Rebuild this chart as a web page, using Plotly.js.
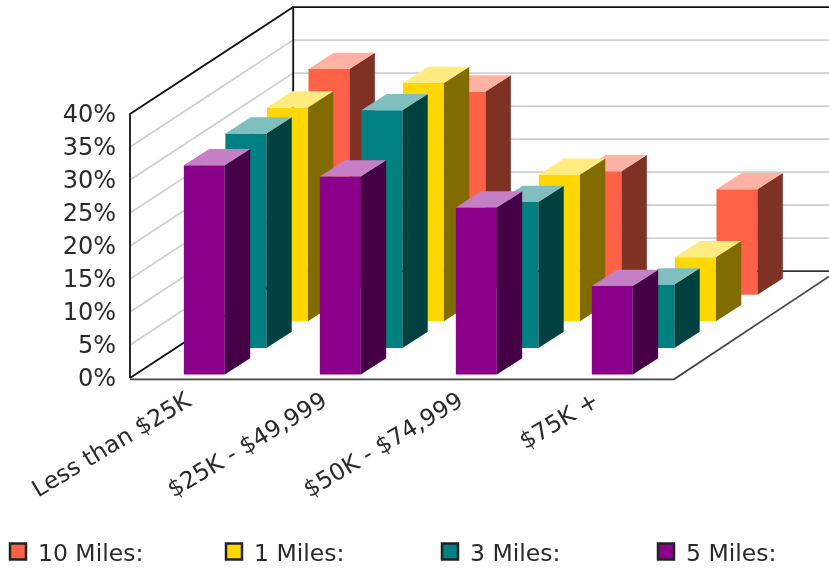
<!DOCTYPE html>
<html><head><meta charset="utf-8">
<script src="https://cdn.plot.ly/plotly-3.0.1.min.js"></script>
<style>html,body{margin:0;padding:0;background:#fff}#c{width:829px;height:569px;filter:blur(0.5px)}</style>
</head><body><div id="c"></div>
<script>
const categories = ["Less than $25K", "$25K - $49,999", "$50K - $74,999", "$75K +"];
const seriesNames = ["10 Miles:", "1 Miles:", "3 Miles:", "5 Miles:"];
const tenMiles = [34.2, 30.8, 18.7, 16.0];
const oneMile = [32.4, 36.1, 22.2, 9.7];
const threeMiles = [32.5, 36.0, 22.1, 9.6];
const fiveMiles = [31.7, 30.0, 25.3, 13.4];
const yTicks = [0, 5, 10, 15, 20, 25, 30, 35, 40];
const frontColors = ["#FF6347", "#FFD700", "#008080", "#8B008B"];
const sideColors = ["#7F3123", "#806C00", "#004040", "#460046"];
const topColors = ["#FFB1A3", "#FFEB7F", "#7FBFBF", "#C57FC5"];
const seriesValues = [tenMiles, oneMile, threeMiles, fiveMiles];

// oblique projection: one series step of depth shifts the point right and up
const depthX = 0.3, depthY = 4.05;
const P = (cat, val, depth) => [cat + depth * depthX, val + depth * depthY];
const barDepthX = 0.3055, barDepthY = 4.03, barShift = 0.007;
const B = (cat, val, depth) => [cat + barShift + depth * barDepthX, val + depth * barDepthY];
const nDepth = seriesValues.length, nCat = categories.length;
const barW = 0.3015, barD = 0.61, barGap = 0.13;

const traces = [];
function poly(pts, color, name) {
  const x = [], y = [];
  pts.forEach(p => { if (p) { x.push(p[0]); y.push(p[1]); } else { x.push(null); y.push(null); } });
  return {x, y, mode: 'lines', fill: 'toself', fillcolor: color, line: {width: 0, color: color},
          hoverinfo: 'skip', showlegend: false, name};
}
function line(pts, color, w) {
  return {x: pts.map(p => p[0]), y: pts.map(p => p[1]), mode: 'lines',
          line: {color, width: w}, hoverinfo: 'skip', showlegend: false};
}
// legend entries, one legend per entry so that each column sits where it should
const legendIds = ['legend', 'legend2', 'legend3', 'legend4'];
seriesNames.forEach((n, i) => traces.push({x: [null], y: [null], mode: 'markers', name: n, legend: legendIds[i],
  marker: {symbol: 'square', size: 16, color: frontColors[i], line: {color: '#222', width: 2.5}}}));

// walls: gridlines
yTicks.slice(1, -1).forEach(v => {
  traces.push(line([P(0, v, 0), P(0, v, nDepth), P(nCat + 1, v, nDepth)], '#cfcfcf', 1.7));
});
// frame
const topV = yTicks[yTicks.length - 1];
traces.push(line([P(0, 0, nDepth), P(nCat + 1, 0, nDepth)], '#333', 1.8));
traces.push(line([P(0, 0, 0), P(0, 0, nDepth), P(0, topV, nDepth), P(nCat + 1, topV, nDepth)], '#111', 1.8));
traces.push(line([P(0, topV, nDepth), P(0, topV, 0), P(0, 0, 0)], '#111', 1.8));
traces.push(line([P(0, -0.2, 0), P(nCat, -0.2, 0), P(nCat, 0, nDepth)], '#444', 1.8));

// bars, back series first
seriesValues.forEach((vals, s) => {
  const d0 = (nDepth - 1 - s) + barGap, d1 = d0 + barD;
  const f = [], r = [], t = [];
  vals.forEach((v, c) => {
    const a = c + 0.5 - barW / 2, b = c + 0.5 + barW / 2;
    f.push(B(a, 0, d0), B(b, 0, d0), B(b, v, d0), B(a, v, d0), B(a, 0, d0), null);
    r.push(B(b, 0, d0), B(b, 0, d1), B(b, v, d1), B(b, v, d0), B(b, 0, d0), null);
    t.push(B(a, v, d0), B(b, v, d0), B(b, v, d1), B(a, v, d1), B(a, v, d0), null);
  });
  traces.push(poly(f, frontColors[s], seriesNames[s]));
  traces.push(poly(r, sideColors[s], seriesNames[s]));
  traces.push(poly(t, topColors[s], seriesNames[s]));
});

const textColor = '#2a2a2a';
const font = {family: 'DejaVu Sans', size: 23.5, color: textColor};
const legendBase = (px) => ({x: (px - 120) / 709, xanchor: 'left', y: -0.387, yanchor: 'top',
  orientation: 'h', font: font, bgcolor: 'rgba(0,0,0,0)'});
const layout = {
  width: 829, height: 569, paper_bgcolor: '#fff', plot_bgcolor: '#fff',
  margin: {l: 120, r: 0, t: 0, b: 187, autoexpand: false},
  showlegend: true,
  legend: legendBase(-2), legend2: legendBase(214), legend3: legendBase(430), legend4: legendBase(646),
  xaxis: {range: [-0.0735, 5.14], fixedrange: true, showgrid: false, zeroline: false, showline: false,
          tickmode: 'array', tickvals: categories.map((c, i) => i + 0.5 - 0.085), ticktext: categories,
          tickangle: -31, ticks: '', tickfont: font},
  yaxis: {range: [-0.606, 57.27], fixedrange: true, showgrid: false, zeroline: false, showline: false,
          tickmode: 'array', tickvals: yTicks, ticktext: yTicks.map(v => v + '%'),
          ticks: '', ticklabelstandoff: 3, tickfont: {family: 'DejaVu Sans', size: 24, color: textColor}}
};
Plotly.newPlot('c', traces, layout, {displayModeBar: false, staticPlot: true});
</script></body></html>
